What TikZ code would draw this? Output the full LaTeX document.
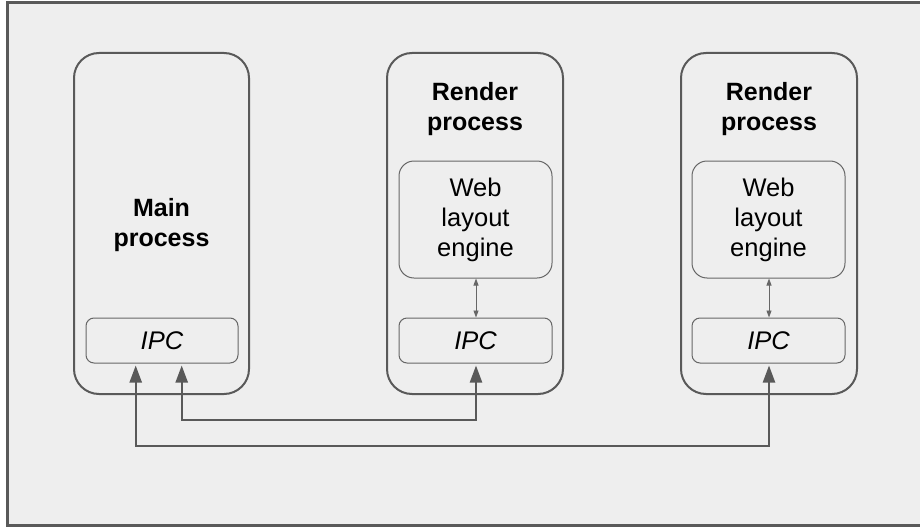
\documentclass[tikz,border=0pt]{standalone}
\usepackage{fontspec}
\setmainfont{Liberation Sans}
\usetikzlibrary{arrows.meta}
\definecolor{bgc}{HTML}{EEEEEE}
\definecolor{linec}{HTML}{595959}
\definecolor{thinc}{HTML}{666666}
\begin{document}
\begin{tikzpicture}[x=1pt,y=-1pt,
  procbox/.style={draw=linec, line width=2pt, rounded corners=25pt, fill=bgc, minimum width=176pt, minimum height=341pt, inner sep=0pt},
  webbox/.style={draw=thinc, line width=1pt, rounded corners=15pt, minimum width=153pt, minimum height=117pt, inner sep=0pt, align=center, font=\fontsize{25.5}{30}\selectfont},
  ipcbox/.style={draw=thinc, line width=1pt, rounded corners=8pt, minimum width=153pt, minimum height=45pt, inner sep=0pt, font=\fontsize{25.5}{30}\selectfont\itshape},
  plabel/.style={align=center, inner sep=0pt, font=\fontsize{25}{30}\selectfont\bfseries},
  bigarrow/.style={draw=linec, line width=2.3pt, {Triangle[width=12pt,length=17pt]}-{Triangle[width=12pt,length=17pt]}, shorten <=2pt, shorten >=2pt},
  smallarrow/.style={draw=thinc, line width=0.9pt, {Triangle[width=5pt,length=7pt]}-{Triangle[width=5pt,length=7pt]}}
]
\useasboundingbox (0,0) rectangle (920,527);
\fill[white] (0,0) rectangle (920,527);
\draw[draw=linec, line width=3pt, fill=bgc] (7.5,2.5) rectangle (930,525.5);

% process boxes
\node[procbox, minimum width=175pt] (main) at (161.5,223.5) {};
\node[procbox] (rend1) at (475,223.5) {};
\node[procbox] (rend2) at (769,223.5) {};

% labels
\node[plabel] (mainlbl) at (161.5,225) {Main\\process};
\node[plabel] (r1lbl) at (475,109) {Render\\process};
\node[plabel] (r2lbl) at (769,109) {Render\\process};

% web layout engines
\node[webbox] (web1) at (475.5,219.5) {Web\\layout\\engine};
\node[webbox] (web2) at (768.5,219.5) {Web\\layout\\engine};

% IPC boxes
\node[ipcbox, minimum width=152pt] (ipcM) at (162,340.5) {IPC};
\node[ipcbox] (ipc1) at (475.5,340.5) {IPC};
\node[ipcbox] (ipc2) at (768.5,340.5) {IPC};

% web <-> ipc
\draw[smallarrow] (web1.south -| 476,0) -- (ipc1.north -| 476,0);
\draw[smallarrow] (web2.south -| 769,0) -- (ipc2.north -| 769,0);

% connectors
\coordinate (a1) at (135.7,446);
\coordinate (a2) at (769,446);
\coordinate (b1) at (181.7,420);
\coordinate (b2) at (476,420);
\draw[bigarrow] (ipcM.south -| a1) -- (a1) -- (a2) -- (ipc2.south -| a2);
\draw[bigarrow] (ipcM.south -| b1) -- (b1) -- (b2) -- (ipc1.south -| b2);
\end{tikzpicture}
\end{document}
